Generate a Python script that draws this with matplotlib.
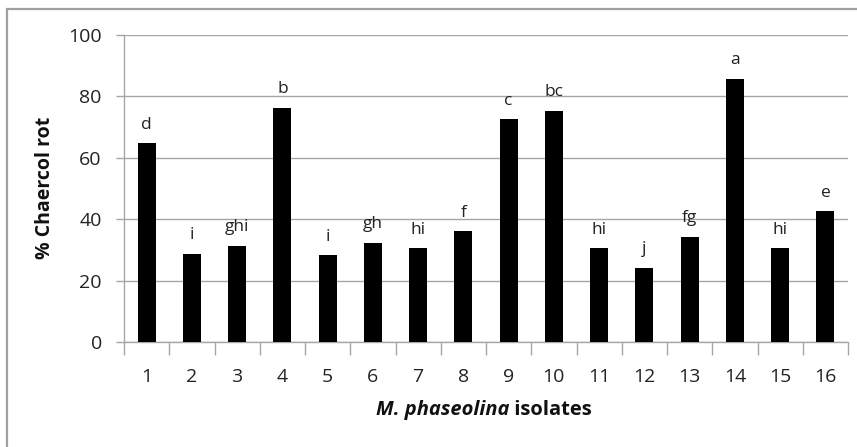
import matplotlib
matplotlib.use("Agg")
import matplotlib.pyplot as plt
from matplotlib.patches import Rectangle
import numpy as np

categories = [str(i) for i in range(1, 17)]
values = [64.7, 28.7, 31.4, 76.2, 28.2, 32.3, 30.5, 36.0, 72.5, 75.3, 30.5, 24.1, 34.2, 85.8, 30.5, 42.6]
letters = ["d", "i", "ghi", "b", "i", "gh", "hi", "f", "c", "bc", "hi", "j", "fg", "a", "hi", "e"]
yticks = [0, 20, 40, 60, 80, 100]

plt.rcParams['font.family'] = ['Open Sans', 'DejaVu Sans']

W, H = 857, 447
fig = plt.figure(figsize=(W / 100, H / 100), dpi=100)
ax = fig.add_axes([124 / W, 1 - 342 / H, (848 - 124) / W, (342 - 35) / H])

x = np.arange(len(categories))
ax.bar(x, values, width=0.4, color='black', zorder=3)
for xi, v, lab in zip(x, values, letters):
    ax.annotate(lab, (xi, v), xytext=(0, 10.5), textcoords='offset points',
                ha='center', va='baseline', fontsize=12.5, color='#222222')

ax.set_xlim(-0.5, len(categories) - 0.5)
ax.set_ylim(0, 100)
ax.set_yticks(yticks)
ax.set_yticklabels([str(t) for t in yticks], fontsize=14, color='#222222')
ax.yaxis.grid(True, color='#a6a6a6', linewidth=1.0, zorder=0)
ax.tick_params(axis='y', length=6, color='#a6a6a6', width=1.0, pad=10)

ax.set_xticks(x)
ax.set_xticklabels(categories, fontsize=14, color='#222222')
ax.set_xticks(np.arange(-0.5, len(categories), 1.0), minor=True)
ax.tick_params(axis='x', which='major', length=0, pad=19)
ax.tick_params(axis='x', which='minor', length=9, color='#a6a6a6', width=1.0)

for s in ['top', 'right']:
    ax.spines[s].set_visible(False)
for s in ['left', 'bottom']:
    ax.spines[s].set_color('#a6a6a6')
    ax.spines[s].set_linewidth(1.0)

yl = fig.text(45 / W, 1 - 188 / H, '% Chaercol rot', fontsize=14, fontweight='bold',
              rotation=90, ha='center', va='center', color='#111111')

# x label: italic part + regular part
t1 = fig.text(0, 1 - 410 / H, 'M. phaseolina', fontsize=14.5, fontweight='bold',
              fontstyle='italic', ha='left', va='center', color='#111111')
t2 = fig.text(0, 1 - 410 / H, ' isolates', fontsize=14.5, fontweight='bold',
              ha='left', va='center', color='#111111')
fig.canvas.draw()
r = fig.canvas.get_renderer()
w1 = t1.get_window_extent(r).width
w2 = t2.get_window_extent(r).width
cx = 484
x0 = cx - (w1 + w2) / 2
t1.set_x(x0 / W)
t2.set_x((x0 + w1) / W)

# outer chart frame
fig.patches.append(Rectangle((7 / W, -0.1), 1.1, 1 - 9 / H + 0.1, transform=fig.transFigure,
                             fill=False, edgecolor='#a0a0a0', linewidth=1.6, clip_on=False))

fig.savefig('out.png', dpi=100, facecolor='white')
